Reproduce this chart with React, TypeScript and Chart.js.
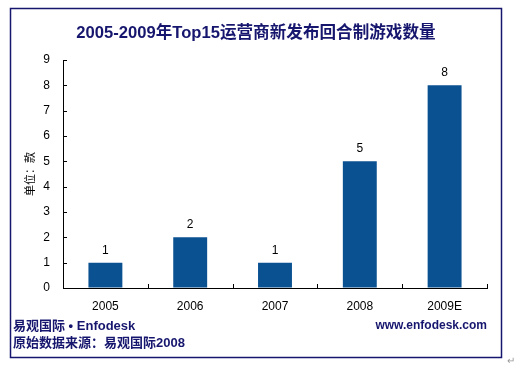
import React, { useEffect, useRef } from "react";
import { Chart, registerables } from "chart.js";

Chart.register(...registerables);

const categories = ["2005", "2006", "2007", "2008", "2009E"];
const counts = [1, 2, 1, 5, 8];
const yTicksMax = 9;
const titleText = "2005-2009年Top15运营商新发布回合制游戏数量";
const yAxisTitle = "单位：款";
const footerLeft1 = "易观国际 • Enfodesk";
const footerLeft2 = "原始数据来源：易观国际2008";
const footerRight = "www.enfodesk.com";

const NAVY = "#16166e";
const BAR = "#0a5192";
const LATIN = "'Liberation Sans', Arial, 'Noto Sans CJK SC', sans-serif";

const decorPlugin = {
  id: "decor",
  beforeDraw(chart: any) {
    const ctx = chart.ctx;
    ctx.save();
    ctx.fillStyle = "#ffffff";
    ctx.fillRect(0, 0, chart.width, chart.height);
    ctx.restore();
  },
  afterDraw(chart: any) {
    const ctx = chart.ctx;
    const area = chart.chartArea;
    const y = chart.scales.y;
    ctx.save();
    // frame
    ctx.strokeStyle = NAVY;
    ctx.lineWidth = 1.5;
    ctx.strokeRect(10.5, 8.5, 491, 349);
    // title
    ctx.fillStyle = NAVY;
    ctx.font = "bold 16.6px " + LATIN;
    ctx.textAlign = "center";
    ctx.textBaseline = "middle";
    ctx.fillText(titleText, 256, 33);
    // y title
    ctx.save();
    ctx.translate(30, 174);
    ctx.rotate(-Math.PI / 2);
    ctx.fillStyle = "#000000";
    ctx.font = "11px 'Noto Sans CJK SC', serif";
    ctx.textAlign = "center";
    ctx.textBaseline = "middle";
    ctx.fillText(yAxisTitle, 0, 0);
    ctx.restore();
    // ticks inside
    ctx.strokeStyle = "#000000";
    ctx.lineWidth = 1;
    ctx.beginPath();
    for (let v = 0; v <= yTicksMax; v++) {
      const py = Math.round(y.getPixelForValue(v)) + 0.5;
      ctx.moveTo(area.left, py);
      ctx.lineTo(area.left + 4, py);
    }
    const step = (area.right - area.left) / categories.length;
    for (let i = 1; i <= categories.length; i++) {
      const px = Math.round(area.left + step * i) + 0.5;
      ctx.moveTo(px, area.bottom);
      ctx.lineTo(px, area.bottom - 4);
    }
    ctx.stroke();
    // data labels
    const meta = chart.getDatasetMeta(0);
    ctx.fillStyle = "#000000";
    ctx.font = "12px " + LATIN;
    ctx.textAlign = "center";
    ctx.textBaseline = "alphabetic";
    meta.data.forEach((bar: any, i: number) => {
      ctx.fillText(String(counts[i]), bar.x, bar.y - 9);
    });
    // footer
    ctx.fillStyle = NAVY;
    ctx.font = "bold 13px " + LATIN;
    ctx.textAlign = "left";
    ctx.textBaseline = "middle";
    ctx.fillText(footerLeft1, 13, 326);
    ctx.fillText(footerLeft2, 13, 343);
    ctx.font = "bold 12px " + LATIN;
    ctx.textAlign = "right";
    ctx.fillText(footerRight, 487, 326);
    // paragraph mark
    ctx.fillStyle = "#999999";
    ctx.font = "10px " + LATIN;
    ctx.textAlign = "center";
    ctx.fillText("↵", 511, 361);
    ctx.restore();
  },
};

export default function App() {
  const ref = useRef<HTMLCanvasElement | null>(null);
  useEffect(() => {
    if (!ref.current) return;
    const chart = new Chart(ref.current, {
      type: "bar",
      data: {
        labels: categories,
        datasets: [
          {
            data: counts,
            backgroundColor: BAR,
            barPercentage: 0.4,
            categoryPercentage: 1,
          },
        ],
      },
      options: {
        responsive: false,
        animation: false,
        devicePixelRatio: 1,
        layout: { padding: { left: 0, top: 60, right: 37, bottom: 0 } },
        plugins: {
          legend: { display: false },
          title: { display: false },
          tooltip: { enabled: false },
        },
        scales: {
          x: {
            grid: { display: true, drawOnChartArea: false, drawTicks: false },
            border: { display: true, color: "#000000", width: 1 },
            ticks: {
              color: "#000000",
              font: { family: LATIN, size: 12 },
              padding: 11,
              maxRotation: 0,
            },
            afterFit(scale: any) {
              scale.height = 80;
            },
          },
          y: {
            min: 0,
            max: yTicksMax,
            grid: { display: true, drawOnChartArea: false, drawTicks: false },
            border: { display: true, color: "#000000", width: 1 },
            ticks: {
              stepSize: 1,
              color: "#000000",
              font: { family: LATIN, size: 12 },
              padding: 13,
            },
            afterFit(scale: any) {
              scale.width = 63;
            },
          },
        },
      },
      plugins: [decorPlugin],
    });
    return () => chart.destroy();
  }, []);
  return (
    <div style={{ position: "fixed", left: 0, top: 0, width: 524, height: 368 }}>
      <canvas ref={ref} width={524} height={368} style={{ display: "block" }} />
    </div>
  );
}
